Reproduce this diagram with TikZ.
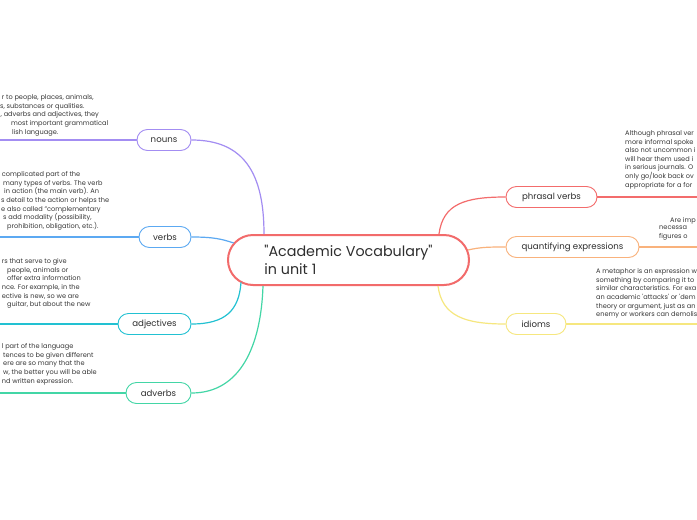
\documentclass[tikz,border=0pt]{standalone}
\usepackage{fontspec}
\setmainfont{Poppins}
\usetikzlibrary{calc}
\definecolor{cmain}{HTML}{F26B6B}
\definecolor{cpurple}{HTML}{A38DF2}
\definecolor{cblue}{HTML}{5CA9F2}
\definecolor{ccyan}{HTML}{22C1D2}
\definecolor{cgreen}{HTML}{43D6A6}
\definecolor{cred}{HTML}{F36C6C}
\definecolor{corange}{HTML}{F9B27C}
\definecolor{cyellow}{HTML}{F6E77F}
\definecolor{ctext}{HTML}{2E2E2E}
\definecolor{cnote}{HTML}{383838}
\tikzset{
  branch/.style={draw=#1, line width=0.9pt, rounded corners=10.5pt, minimum height=21pt,
    inner xsep=0pt, inner ysep=0pt, text=ctext, font=\fontsize{8.6}{10}\selectfont, fill=white},
  conn/.style={draw=#1, line width=1.2pt},
  notetext/.style={anchor=north west, inner sep=0pt, align=left, text=cnote,
    font=\fontsize{6.6}{8.6}\selectfont},
}
\begin{document}
\begin{tikzpicture}[x=1pt,y=-1pt]
\clip (0,0) rectangle (697,520);
\fill[white] (0,0) rectangle (697,520);

% central node
\node[draw=cmain, line width=2pt, rounded corners=25pt, minimum width=241pt, minimum height=50pt,
  inner sep=0pt, align=left, text=ctext, font=\fontsize{14.3}{18.5}\selectfont, fill=white]
  (central) at (348.5,260) {\textquotedbl Academic Vocabulary\textquotedbl\\in unit 1};

% left branches
\node[branch=cpurple, minimum width=54pt] (nouns) at (164,140) {nouns};
\node[branch=cblue, minimum width=52pt] (verbs) at (165,237) {verbs};
\node[branch=ccyan, minimum width=73pt] (adjectives) at (154.5,324) {adjectives};
\node[branch=cgreen, minimum width=65pt] (adverbs) at (158.5,393) {adverbs};

% right branches
\node[branch=cred, minimum width=91pt] (phrasal) at (551.5,197) {phrasal verbs};
\node[branch=corange, minimum width=133pt] (quant) at (572.5,247) {quantifying expressions};
\node[branch=cyellow, minimum width=60pt] (idioms) at (536,324) {idioms};

% connectors centre -> branches
\draw[conn=cpurple] ([xshift=37pt]central.north west) .. controls +(0,-60) and +(53,0) .. (nouns.east);
\draw[conn=cblue] ($(central.west)+(6.7,-17)$) .. controls +(-12,-4) and +(22,0) .. (verbs.east);
\draw[conn=ccyan] ($(central.west)+(14,22.4)$) .. controls +(-2,28) and +(34,0) .. (adjectives.east);
\draw[conn=cgreen] ([xshift=36pt]central.south west) .. controls +(-2,60) and +(49,0) .. (adverbs.east);
\draw[conn=cred] ([xshift=-31pt]central.north east) .. controls +(4,-30) and +(-41,0) .. (phrasal.west);
\draw[conn=corange] ($(central.east)+(-2.1,-10)$) .. controls +(13,-3) and +(-16,0) .. (quant.west);
\draw[conn=cyellow] ([xshift=-32pt]central.south east) .. controls +(4,30) and +(-41,0) .. (idioms.west);

% free ends of the note lines
\coordinate (enouns) at (-5,140);
\coordinate (everbs) at (-5,237);
\coordinate (eadj) at (-5,324);
\coordinate (eadv) at (-5,393);
\coordinate (ephr) at (702,197);
\coordinate (equa) at (702,247);
\coordinate (eidi) at (702,324);
\draw[conn=cpurple] (nouns.west) -- (enouns);
\draw[conn=cblue] (verbs.west) -- (everbs);
\draw[conn=ccyan] (adjectives.west) -- (eadj);
\draw[conn=cgreen] (adverbs.west) -- (eadv);
\draw[conn=cred] (phrasal.east) -- (ephr);
\draw[conn=corange] (quant.east) -- (equa);
\draw[conn=cyellow] (idioms.east) -- (eidi);

% notes
\node[notetext] (nnouns) at (0,94.5) {%
\hspace*{1.7pt}r to people, places, animals,\\
s, substances or qualities.\\
\hspace*{0.5pt}, adverbs and adjectives, they\\
\hspace*{11pt}most important grammatical\\
\hspace*{12pt}lish language.};

\node[notetext] (nverbs) at (0,171.5) {%
\hspace*{1.7pt}complicated part of the\\
\hspace*{3pt}many types of verbs. The verb\\
\hspace*{4pt}in action (the main verb). An\\
\hspace*{1pt}s detail to the action or helps the\\
\hspace*{1pt}e also called "complementary\\
\hspace*{3pt}s add modality (possibility,\\
\hspace*{7pt}prohibition, obligation, etc.).};

\node[notetext] (nadj) at (0,258.5) {%
\hspace*{1.7pt}rs that serve to give\\
\hspace*{7pt}people, animals or\\
\hspace*{7pt}offer extra information\\
\hspace*{1.7pt}nce. For example, in the\\
\hspace*{1.7pt}ective is new, so we are\\
\hspace*{7pt}guitar, but about the new};

\node[notetext] (nadv) at (0,343.5) {%
\hspace*{1.7pt}l part of the language\\
\hspace*{3pt}tences to be given different\\
\hspace*{3pt}ere are so many that the\\
\hspace*{3pt}w, the better you will be able\\
\hspace*{1.7pt}nd written expression.};

\node[notetext] (nphr) at (625,130.5) {%
Although phrasal ver\\
more informal spoke\\
also not uncommon i\\
will hear them used i\\
in serious journals. O\\
only go/look back ov\\
appropriate for a for};

\node[notetext] (nqua1) at (670,217.5) {Are imp};
\node[notetext] (nqua2) at (659,226.1) {necessa\\figures o};

\node[notetext] (nidi) at (596,268.5) {%
A metaphor is an expression w\\
something by comparing it to\\
similar characteristics. For exa\\
an academic \textquotesingle attacks\textquotesingle\ or \textquotesingle dem\\
theory or argument, just as an\\
enemy or workers can demolis};
\end{tikzpicture}
\end{document}
